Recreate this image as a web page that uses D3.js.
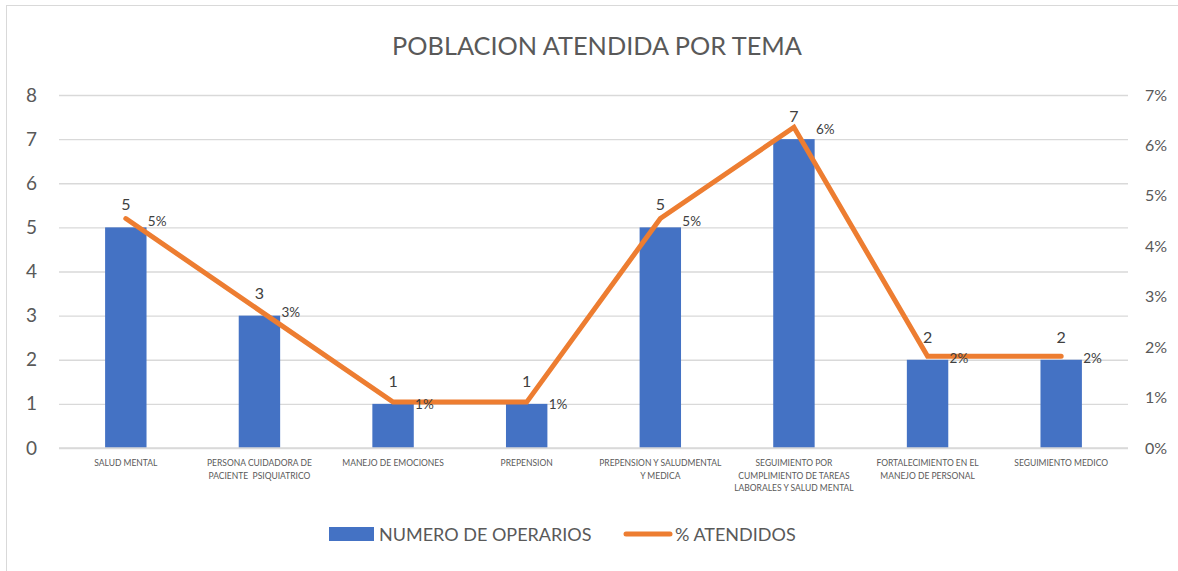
<!DOCTYPE html>
<html>
<head>
<meta charset="utf-8">
<script src="https://cdn.jsdelivr.net/npm/d3@7"></script>
<style>
  html, body { margin: 0; padding: 0; background: #fff; }
  svg { display: block; font-family: Lato, "Open Sans", sans-serif; }
</style>
</head>
<body>
<svg id="chart" width="1178" height="571"></svg>
<script>
const title = "POBLACION ATENDIDA POR TEMA";
const categories = [
  "SALUD MENTAL",
  "PERSONA CUIDADORA DE\nPACIENTE  PSIQUIATRICO",
  "MANEJO DE EMOCIONES",
  "PREPENSION",
  "PREPENSION Y SALUDMENTAL\nY MEDICA",
  "SEGUIMIENTO POR\nCUMPLIMIENTO DE TAREAS\nLABORALES Y SALUD MENTAL",
  "FORTALECIMIENTO EN EL\nMANEJO DE PERSONAL",
  "SEGUIMIENTO MEDICO"
];
const operarios = [5, 3, 1, 1, 5, 7, 2, 2];
const atendidos = [0.0455, 0.0273, 0.0091, 0.0091, 0.0455, 0.0636, 0.0182, 0.0182];
const leftTicks = [0, 1, 2, 3, 4, 5, 6, 7, 8];
const rightTicks = [0, 0.01, 0.02, 0.03, 0.04, 0.05, 0.06, 0.07];
const seriesNames = ["NUMERO DE OPERARIOS", "% ATENDIDOS"];

const svg = d3.select("#chart");
const blue = "#4472C4", orange = "#ED7D31", txt = "#595959", grid = "#d9d9d9";
const m = { left: 59, right: 1128, top: 95, bottom: 448 };

svg.append("rect").attr("x", 6.5).attr("y", 5.5).attr("width", 1180).attr("height", 570)
  .attr("fill", "#fff").attr("stroke", "#d9d9d9").attr("stroke-width", 1);

const x = d3.scaleBand().domain(categories).range([m.left, m.right]).paddingInner(0.69).paddingOuter(0.345);
const xc = d3.scalePoint().domain(categories).range([m.left, m.right]).padding(0.5);
const yL = d3.scaleLinear().domain([0, 8]).range([m.bottom, m.top]);
const yR = d3.scaleLinear().domain([0, 0.07]).range([m.bottom, m.top]);

// title
svg.append("text").attr("x", 597).attr("y", 55).attr("text-anchor", "middle")
  .attr("font-size", 25.3).attr("fill", txt).text(title);

// gridlines
const gl = d3.axisLeft(yL).tickValues(leftTicks).tickSize(-(m.right - m.left)).tickFormat("");
const gg = svg.append("g").attr("transform", `translate(${m.left},0)`).call(gl);
gg.select(".domain").remove();
gg.selectAll("line").attr("stroke", grid).attr("stroke-width", 1.3);

// left axis labels
const la = svg.append("g").attr("transform", `translate(${m.left},0)`)
  .call(d3.axisLeft(yL).tickValues(leftTicks).tickSize(0).tickPadding(22).tickFormat(d3.format("d")));
la.select(".domain").remove();
la.selectAll("text").attr("font-size", 19).attr("fill", txt).attr("font-family", "Lato, sans-serif");

// right axis labels
const ra = svg.append("g").attr("transform", `translate(${m.right},0)`)
  .call(d3.axisRight(yR).tickValues(rightTicks).tickSize(0).tickPadding(17).tickFormat(d3.format(".0%")));
ra.select(".domain").remove();
ra.selectAll("text").attr("font-size", 16).attr("fill", txt).attr("font-family", "Lato, sans-serif");

// bars
svg.append("g").selectAll("rect").data(categories).join("rect")
  .attr("x", d => x(d)).attr("width", x.bandwidth())
  .attr("y", (d, i) => yL(operarios[i])).attr("height", (d, i) => yL(0) - yL(operarios[i]))
  .attr("fill", blue);

// x axis baseline
svg.append("line").attr("x1", m.left).attr("x2", m.right).attr("y1", m.bottom).attr("y2", m.bottom)
  .attr("stroke", grid).attr("stroke-width", 1.3);

// category labels
const cl = svg.append("g").selectAll("text").data(categories).join("text")
  .attr("x", d => xc(d)).attr("y", 466).attr("text-anchor", "middle")
  .attr("font-size", 8.5).attr("fill", txt).style("white-space", "pre");
cl.each(function(d) {
  const lines = d.split("\n");
  d3.select(this).selectAll("tspan").data(lines).join("tspan")
    .attr("x", xc(d)).attr("dy", (l, i) => i === 0 ? 0 : 12.5).text(l => l);
});

// line
const line = d3.line().x((d, i) => xc(categories[i])).y(d => yR(d));
svg.append("path").datum(atendidos).attr("d", line).attr("fill", "none")
  .attr("stroke", orange).attr("stroke-width", 5).attr("stroke-linecap", "round").attr("stroke-linejoin", "miter");

// bar value labels
svg.append("g").selectAll("text").data(categories).join("text")
  .attr("x", d => xc(d)).attr("y", (d, i) => yL(operarios[i]) - 17).attr("text-anchor", "middle")
  .attr("font-size", 16).attr("fill", "#404040").text((d, i) => operarios[i]);

// percent labels
svg.append("g").selectAll("text").data(categories).join("text")
  .attr("x", d => xc(d) + 22).attr("y", (d, i) => yR(atendidos[i]) + 7)
  .attr("font-size", 13.5).attr("fill", "#404040").text((d, i) => d3.format(".0%")(atendidos[i]));

// legend
const lg = svg.append("g");
lg.append("rect").attr("x", 329).attr("y", 527).attr("width", 45).attr("height", 14).attr("fill", blue);
lg.append("text").attr("x", 379).attr("y", 541).attr("font-size", 18).attr("fill", txt).text(seriesNames[0]);
lg.append("line").attr("x1", 626).attr("x2", 670).attr("y1", 534).attr("y2", 534)
  .attr("stroke", orange).attr("stroke-width", 5).attr("stroke-linecap", "round");
lg.append("text").attr("x", 675).attr("y", 541).attr("font-size", 18).attr("fill", txt).text(seriesNames[1]);
</script>
</body>
</html>
